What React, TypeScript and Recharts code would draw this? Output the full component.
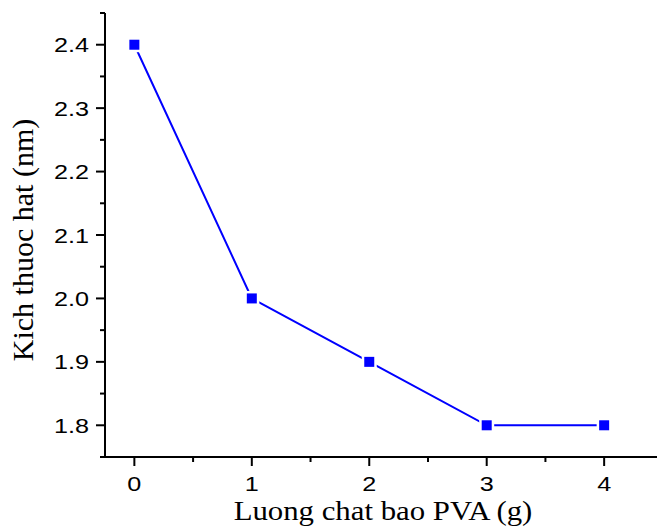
import React from 'react';
import { LineChart, Line, XAxis, YAxis } from 'recharts';

// PVA amount (g) vs particle size (nm)
const amounts = [0, 1, 2, 3, 4];
const sizes = [2.4, 2.0, 1.9, 1.8, 1.8];

const xMajor = [0, 1, 2, 3, 4];
const xMinor = [0.5, 1.5, 2.5, 3.5];
const yMajor = [1.8, 1.9, 2.0, 2.1, 2.2, 2.3, 2.4];
const yMinor = [1.75, 1.85, 1.95, 2.05, 2.15, 2.25, 2.35, 2.45];

const data = amounts.map((a, i) => ({ amount: a, size: sizes[i] }));

const TICK_SIZE = 9;
const X_MARGIN = 10;
const Y_MARGIN = 7;
const tickFont = '"Liberation Sans", Arial, sans-serif';
const titleFont = '"Liberation Serif", "Times New Roman", serif';

const XTick = (props: any) => {
    const { x, y, payload } = props;
    const axisY = y - TICK_SIZE - X_MARGIN;
    const major = xMajor.includes(payload.value);
    return (
        <g>
            <line x1={x} x2={x} y1={axisY} y2={axisY + (major ? 9 : 5)} stroke="#000" strokeWidth={2} />
            {major && (
                <text transform={`translate(${x},${y}) scale(1.2,1)`} textAnchor="middle" dy="0.72em"
                    fontFamily={tickFont} fontSize={21} fill="#000">
                    {payload.value}
                </text>
            )}
        </g>
    );
};

const YTick = (props: any) => {
    const { x, y, payload } = props;
    const axisX = x + TICK_SIZE + Y_MARGIN;
    const major = yMajor.includes(payload.value);
    return (
        <g>
            <line x1={axisX} x2={axisX - (major ? 9 : 5)} y1={y} y2={y} stroke="#000" strokeWidth={2} />
            {major && (
                <text transform={`translate(${x},${y}) scale(1.2,1)`} textAnchor="end" dy="0.36em"
                    fontFamily={tickFont} fontSize={21} fill="#000">
                    {payload.value.toFixed(1)}
                </text>
            )}
        </g>
    );
};

// square marker with a white halo so the line stops short of it
const SquareDot = (props: any) => {
    const { cx, cy, index } = props;
    return (
        <g key={`dot-${index}`}>
            <rect x={cx - 7.5} y={cy - 7.5} width={15} height={15} fill="#fff" />
            <rect x={cx - 5} y={cy - 5} width={10} height={10} fill="#0000ff" />
        </g>
    );
};

export default function App() {
    return (
        <div style={{ position: 'absolute', left: 0, top: 0, background: '#fff' }}>
            <LineChart width={657} height={529} data={data} margin={{ top: 13, right: 0, bottom: 0, left: 0 }}>
                <XAxis
                    type="number"
                    dataKey="amount"
                    domain={[-0.25, 4.45]}
                    ticks={[...xMajor, ...xMinor].sort((a, b) => a - b)}
                    interval={0}
                    allowDataOverflow
                    height={72}
                    tickSize={TICK_SIZE}
                    tickMargin={X_MARGIN}
                    tickLine={false}
                    axisLine={{ stroke: '#000', strokeWidth: 2 }}
                    tick={<XTick />}
                    label={{
                        content: () => (
                            <text x={383} y={520} textAnchor="middle" fontFamily={titleFont} fontSize={28} fill="#000"
                                transform="translate(383,0) scale(1.1,1) translate(-383,0)">
                                Luong chat bao PVA (g)
                            </text>
                        ),
                    }}
                />
                <YAxis
                    type="number"
                    domain={[1.75, 2.45]}
                    ticks={[...yMajor, ...yMinor].sort((a, b) => a - b)}
                    interval={0}
                    allowDataOverflow
                    width={105}
                    tickSize={TICK_SIZE}
                    tickMargin={Y_MARGIN}
                    tickLine={false}
                    axisLine={{ stroke: '#000', strokeWidth: 2 }}
                    tick={<YTick />}
                    label={{
                        content: () => (
                            <text x={33} y={240} textAnchor="middle" fontFamily={titleFont} fontSize={30} fill="#000"
                                transform="rotate(-90, 33, 240)">
                                Kich thuoc hat (nm)
                            </text>
                        ),
                    }}
                />
                <Line
                    type="linear"
                    dataKey="size"
                    stroke="#0000ff"
                    strokeWidth={2}
                    dot={<SquareDot />}
                    activeDot={false}
                    isAnimationActive={false}
                />
            </LineChart>
        </div>
    );
}
